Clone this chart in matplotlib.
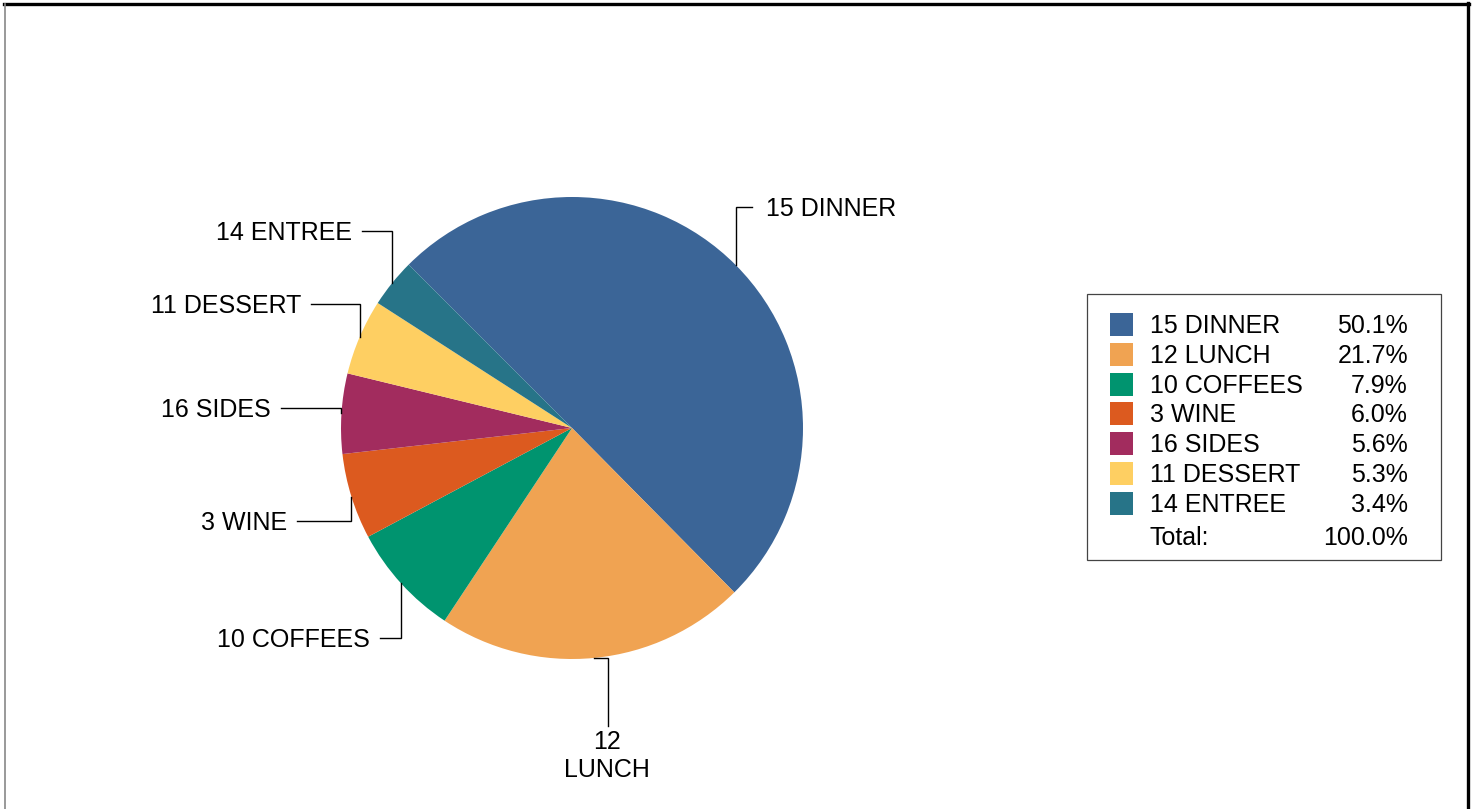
import numpy as np
import matplotlib
matplotlib.use("Agg")
import matplotlib.pyplot as plt
from matplotlib.patches import Rectangle
from matplotlib.lines import Line2D

# ---- data ----
categories = ["15 DINNER", "12 LUNCH", "10 COFFEES", "3 WINE", "16 SIDES", "11 DESSERT", "14 ENTREE"]
values = [50.1, 21.7, 7.9, 6.0, 5.6, 5.3, 3.4]
colors = ["#3B6597", "#F0A352", "#00946F", "#DC5A1F", "#A22C5E", "#FECF62", "#277488"]
total_label = "Total:"

# ---- layout (pixels) ----
W, H = 1480, 809
plt.rcParams['font.family'] = ['Liberation Sans', 'DejaVu Sans']
FS = 18
cap_half = 0.716 * FS * 100 / 72 / 2

def Y(py):
    return H - py

fig = plt.figure(figsize=(W / 100, H / 100), dpi=100)
ax = fig.add_axes([0, 0, 1, 1])

cx, cy, R = 572, 428, 231
wedges, _ = ax.pie(values, colors=colors, startangle=135, counterclock=False,
                   center=(cx, Y(cy)), radius=R, frame=True,
                   wedgeprops=dict(linewidth=0))
ax.set_xlim(0, W)
ax.set_ylim(0, H)
ax.set_aspect('auto')
ax.axis('off')

# side labels: (line y in px, line end x in px, side)
side_layout = {
    "15 DINNER": (207, 752, 'right'),
    "14 ENTREE": (231, 362, 'left'),
    "11 DESSERT": (304, 311, 'left'),
    "16 SIDES": (408, 281, 'left'),
    "3 WINE": (521, 297, 'left'),
    "10 COFFEES": (638, 380, 'left'),
}
gap = 14
lc = "#000000"
for w, name in zip(wedges, categories):
    mid = np.deg2rad((w.theta1 + w.theta2) / 2)
    ax_x = w.center[0] + R * np.cos(mid)
    ax_y = w.center[1] + R * np.sin(mid)
    if name in side_layout:
        ly, lx, side = side_layout[name]
        ax.plot([ax_x, ax_x, lx], [ax_y, Y(ly), Y(ly)], color=lc, lw=1.0,
                solid_joinstyle='miter')
        if side == 'right':
            ax.text(lx + gap, Y(ly) - cap_half, name, ha='left', va='baseline', fontsize=FS)
        else:
            ax.text(lx - 10, Y(ly) - cap_half, name, ha='right', va='baseline', fontsize=FS)
    else:
        # bottom label (LUNCH)
        ex = 608
        ax.plot([ax_x, ex, ex], [ax_y, ax_y, Y(726)], color=lc, lw=1.0,
                solid_joinstyle='miter')
        num, word = name.split(" ", 1)
        ax.text(ex - 1, Y(749), num, ha='center', va='baseline', fontsize=FS)
        ax.text(ex - 1, Y(777), word, ha='center', va='baseline', fontsize=FS)

# ---- legend box ----
bx0, bx1, by0, by1 = 1087, 1441, 294, 560
ax.add_patch(Rectangle((bx0, Y(by1)), bx1 - bx0, by1 - by0, facecolor='white',
                       edgecolor='#444444', lw=0.9))
row0, step = 333, 29.8
for i, (name, v, c) in enumerate(zip(categories, values, colors)):
    base = row0 + i * step
    ax.add_patch(Rectangle((1110, Y(base + 3)), 23, 23, facecolor=c, edgecolor='none'))
    ax.text(1150, Y(base), name, ha='left', va='baseline', fontsize=FS)
    ax.text(1408, Y(base), f"{v:.1f}%", ha='right', va='baseline', fontsize=FS)
ax.text(1150, Y(545), total_label, ha='left', va='baseline', fontsize=FS)
ax.text(1408, Y(545), f"{sum(values):.1f}%", ha='right', va='baseline', fontsize=FS)

# ---- outer frame ----
fig.add_artist(Line2D([4 / W, 1469 / W], [1 - 4 / H, 1 - 4 / H], color='black', lw=2.4,
                      transform=fig.transFigure))
fig.add_artist(Line2D([4.5 / W, 4.5 / W], [0, 1 - 4 / H], color='#888888', lw=1.2,
                      transform=fig.transFigure))
fig.add_artist(Line2D([1468 / W, 1468 / W], [0, 1 - 3 / H], color='black', lw=2.4,
                      transform=fig.transFigure))

fig.savefig("out.png", dpi=100)
